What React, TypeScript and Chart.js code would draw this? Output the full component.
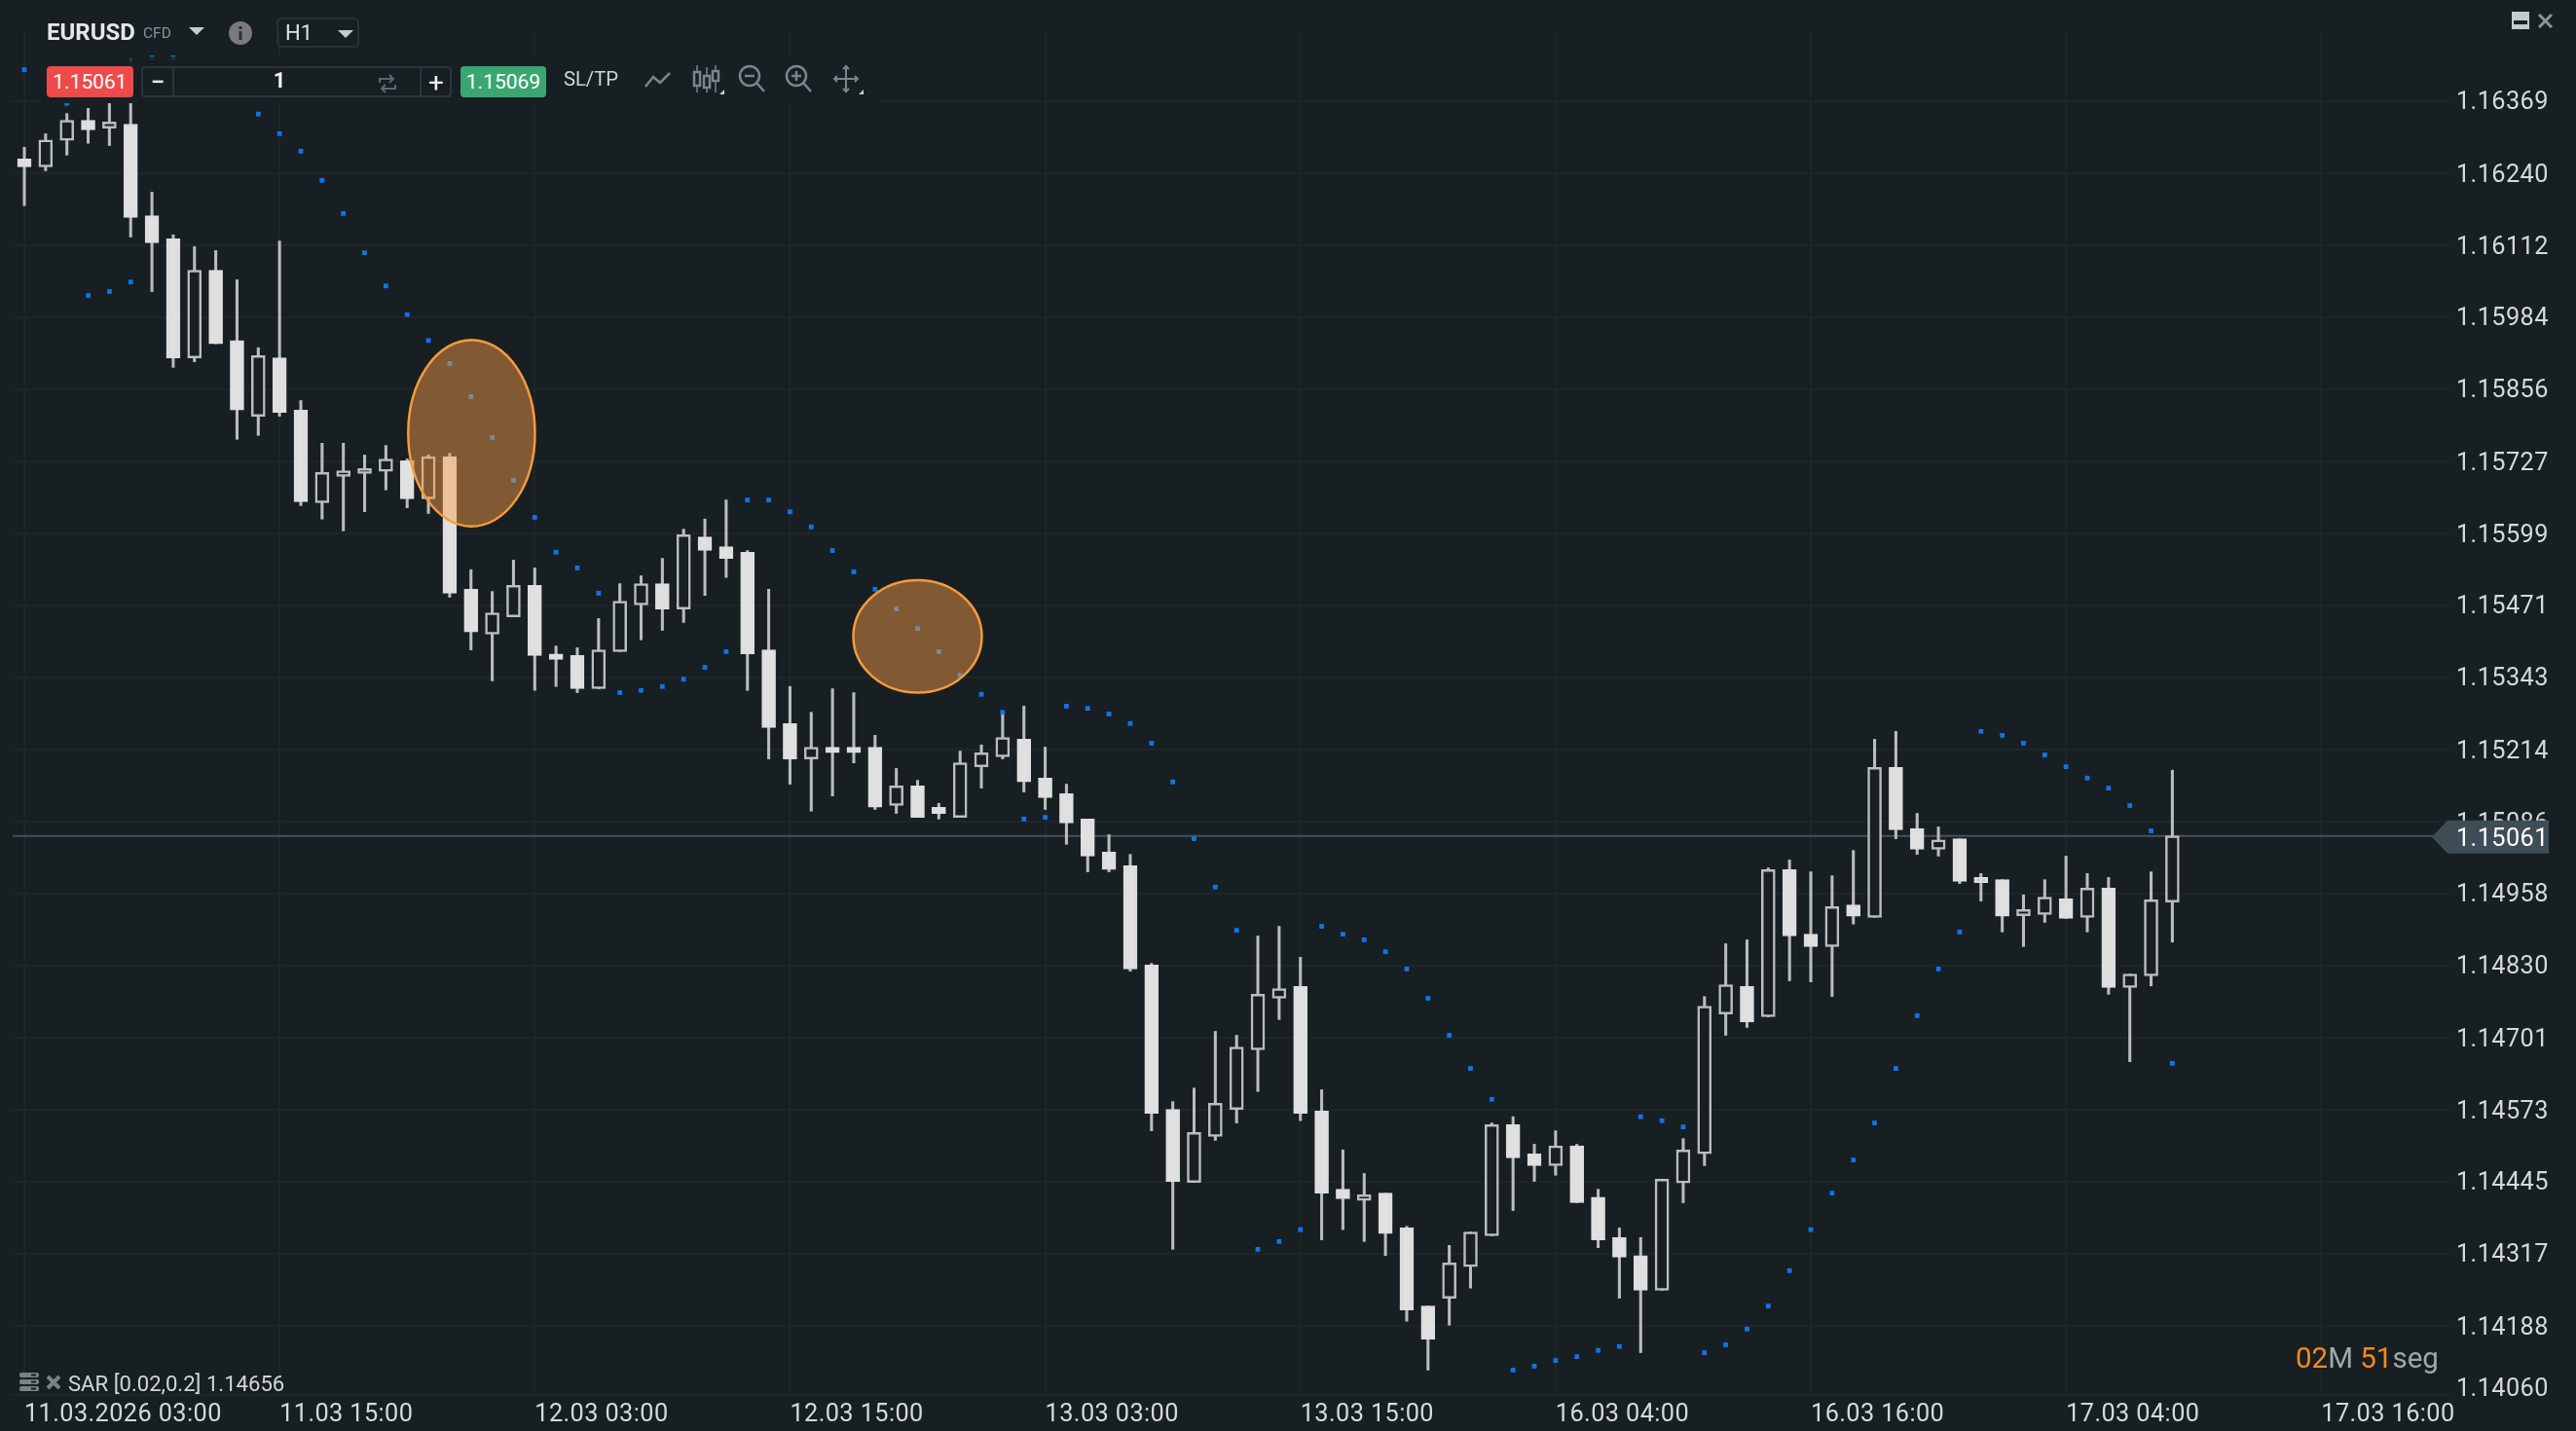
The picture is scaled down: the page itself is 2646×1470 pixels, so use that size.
import React, { useEffect, useRef } from "react";
import { Chart } from "chart.js/auto";

const opens = [
  1.16266, 1.16252, 1.16299, 1.16335, 1.16321, 1.16328, 1.16165, 1.16124, 1.15912, 1.16068,
  1.15943, 1.15808, 1.15912, 1.15819, 1.15654, 1.15701, 1.15706, 1.15710, 1.15729, 1.15661,
  1.15736, 1.15500, 1.15420, 1.15451, 1.15507, 1.15385, 1.15382, 1.15323, 1.15389, 1.15472,
  1.15510, 1.15465, 1.15593, 1.15576, 1.15566, 1.15392, 1.15261, 1.15198, 1.15219, 1.15219,
  1.15219, 1.15115, 1.15150, 1.15112, 1.15094, 1.15184, 1.15202, 1.15233, 1.15164, 1.15136,
  1.15091, 1.15032, 1.15008, 1.14831, 1.14574, 1.14444, 1.14526, 1.14574, 1.14680, 1.14772,
  1.14793, 1.14571, 1.14432, 1.14412, 1.14425, 1.14363, 1.14224, 1.14238, 1.14294, 1.14349,
  1.14547, 1.14495, 1.14474, 1.14509, 1.14418, 1.14346, 1.14314, 1.14252, 1.14443, 1.14495,
  1.14744, 1.14793, 1.14739, 1.15001, 1.14886, 1.14864, 1.14938, 1.14916, 1.15183, 1.15074,
  1.15037, 1.15056, 1.14987, 1.14983, 1.14919, 1.14921, 1.14949, 1.14916, 1.14968, 1.14791,
  1.14812, 1.14943,
];
const closes = [
  1.16252, 1.16300, 1.16335, 1.16318, 1.16332, 1.16162, 1.16117, 1.15912, 1.16068, 1.15937,
  1.15819, 1.15916, 1.15815, 1.15656, 1.15708, 1.15711, 1.15715, 1.15732, 1.15661, 1.15736,
  1.15493, 1.15424, 1.15458, 1.15507, 1.15382, 1.15375, 1.15323, 1.15392, 1.15479, 1.15510,
  1.15465, 1.15597, 1.15569, 1.15555, 1.15385, 1.15254, 1.15198, 1.15219, 1.15209, 1.15209,
  1.15112, 1.15150, 1.15094, 1.15101, 1.15191, 1.15209, 1.15236, 1.15157, 1.15129, 1.15084,
  1.15025, 1.15001, 1.14824, 1.14567, 1.14446, 1.14533, 1.14585, 1.14685, 1.14779, 1.14789,
  1.14567, 1.14425, 1.14415, 1.14422, 1.14353, 1.14217, 1.14165, 1.14301, 1.14356, 1.14547,
  1.14488, 1.14474, 1.14509, 1.14408, 1.14342, 1.14311, 1.14252, 1.14450, 1.14502, 1.14758,
  1.14796, 1.14730, 1.15001, 1.14883, 1.14864, 1.14935, 1.14918, 1.15183, 1.15072, 1.15037,
  1.15054, 1.14980, 1.14978, 1.14918, 1.14930, 1.14952, 1.14914, 1.14968, 1.14791, 1.14815,
  1.14947, 1.15061,
];
const highs = [
  1.16287, 1.16311, 1.16347, 1.16356, 1.16366, 1.16446, 1.16207, 1.16131, 1.16110, 1.16103,
  1.16051, 1.15930, 1.16120, 1.15836, 1.15760, 1.15760, 1.15739, 1.15756, 1.15732, 1.15739,
  1.15742, 1.15535, 1.15496, 1.15552, 1.15538, 1.15399, 1.15396, 1.15448, 1.15510, 1.15524,
  1.15555, 1.15607, 1.15625, 1.15659, 1.15569, 1.15500, 1.15327, 1.15281, 1.15323, 1.15316,
  1.15240, 1.15181, 1.15160, 1.15119, 1.15212, 1.15223, 1.15278, 1.15292, 1.15219, 1.15153,
  1.15091, 1.15063, 1.15028, 1.14834, 1.14588, 1.14612, 1.14713, 1.14706, 1.14883, 1.14900,
  1.14845, 1.14609, 1.14502, 1.14460, 1.14425, 1.14366, 1.14224, 1.14332, 1.14356, 1.14550,
  1.14561, 1.14512, 1.14536, 1.14512, 1.14432, 1.14363, 1.14346, 1.14450, 1.14522, 1.14775,
  1.14869, 1.14876, 1.15004, 1.15018, 1.14997, 1.14990, 1.15035, 1.15233, 1.15247, 1.15101,
  1.15077, 1.15056, 1.14994, 1.14983, 1.14956, 1.14983, 1.15025, 1.14994, 1.14987, 1.14815,
  1.14997, 1.15178,
];
const lows = [
  1.16183, 1.16245, 1.16273, 1.16294, 1.16290, 1.16127, 1.16030, 1.15895, 1.15905, 1.15937,
  1.15767, 1.15774, 1.15808, 1.15649, 1.15625, 1.15604, 1.15638, 1.15677, 1.15645, 1.15635,
  1.15486, 1.15392, 1.15337, 1.15451, 1.15320, 1.15327, 1.15316, 1.15323, 1.15389, 1.15410,
  1.15427, 1.15441, 1.15489, 1.15521, 1.15320, 1.15198, 1.15153, 1.15105, 1.15132, 1.15191,
  1.15108, 1.15101, 1.15094, 1.15091, 1.15094, 1.15146, 1.15198, 1.15139, 1.15108, 1.15046,
  1.14997, 1.14997, 1.14820, 1.14536, 1.14325, 1.14444, 1.14519, 1.14550, 1.14606, 1.14734,
  1.14554, 1.14342, 1.14360, 1.14339, 1.14314, 1.14197, 1.14110, 1.14190, 1.14256, 1.14349,
  1.14394, 1.14446, 1.14457, 1.14408, 1.14328, 1.14238, 1.14141, 1.14252, 1.14408, 1.14474,
  1.14706, 1.14720, 1.14739, 1.14803, 1.14801, 1.14775, 1.14904, 1.14916, 1.15056, 1.15028,
  1.15025, 1.14976, 1.14945, 1.14890, 1.14864, 1.14907, 1.14914, 1.14890, 1.14779, 1.14659,
  1.14794, 1.14872,
];
const sarValues = [
  1.16425, 1.16396, 1.16365, 1.16023, 1.16030, 1.16047, 1.16446, 1.16446, 1.16429, 1.16404,
  1.16377, 1.16346, 1.16311, 1.16280, 1.16228, 1.16169, 1.16099, 1.16040, 1.15989, 1.15943,
  1.15902, 1.15843, 1.15770, 1.15694, 1.15628, 1.15566, 1.15538, 1.15493, 1.15316, 1.15320,
  1.15327, 1.15340, 1.15361, 1.15389, 1.15659, 1.15659, 1.15638, 1.15611, 1.15569, 1.15531,
  1.15500, 1.15465, 1.15430, 1.15389, 1.15347, 1.15313, 1.15281, 1.15091, 1.15094, 1.15292,
  1.15288, 1.15278, 1.15261, 1.15226, 1.15157, 1.15056, 1.14970, 1.14893, 1.14325, 1.14339,
  1.14360, 1.14900, 1.14886, 1.14876, 1.14855, 1.14824, 1.14772, 1.14706, 1.14647, 1.14592,
  1.14110, 1.14117, 1.14127, 1.14134, 1.14145, 1.14152, 1.14561, 1.14554, 1.14543, 1.14141,
  1.14155, 1.14183, 1.14224, 1.14287, 1.14360, 1.14425, 1.14484, 1.14550, 1.14647, 1.14741,
  1.14824, 1.14890, 1.15247, 1.15240, 1.15226, 1.15205, 1.15184, 1.15164, 1.15146, 1.15115,
  1.15070, 1.14656,
];
const priceTicks = [
  1.16369, 1.1624, 1.16112, 1.15984, 1.15856, 1.15727, 1.15599, 1.15471, 1.15343, 1.15214,
  1.15086, 1.14958, 1.1483, 1.14701, 1.14573, 1.14445, 1.14317, 1.14188, 1.1406,
];
const timeLabels = [
  "11.03.2026 03:00", "11.03 15:00", "12.03 03:00", "12.03 15:00", "13.03 03:00",
  "13.03 15:00", "16.03 04:00", "16.03 16:00", "17.03 04:00", "17.03 16:00",
];
const lastPrice = 1.15061;
const bidLabel = "1.15061";
const askLabel = "1.15069";
const sarLegend = "SAR [0.02,0.2] 1.14656";
const highlightBars = [21.03, 42.0];
const highlightPrices = [1.15778, 1.15416];
const highlightHalfBars = [2.98, 3.02];
const highlightHalfPrices = [0.00166, 0.001];

const BG = "#171f23";
const GRID = "#1d2529";
const TEXT = "#d6d9db";
const FONT = "Roboto, sans-serif";
const LAST_TICK = priceTicks[priceTicks.length - 1];

const overlayPlugin = {
  id: "overlay",
  beforeDraw(chart: any) {
    chart.ctx.letterSpacing = "0.4px";
  },
  afterDatasetsDraw(chart: any) {
    const { ctx, scales } = chart;
    ctx.save();
    highlightBars.forEach((bar, i) => {
      const cx = scales.x.getPixelForValue(bar);
      const cy = scales.y.getPixelForValue(highlightPrices[i]);
      const rx = Math.abs(scales.x.getPixelForValue(bar + highlightHalfBars[i]) - cx);
      const ry = Math.abs(scales.y.getPixelForValue(highlightPrices[i] + highlightHalfPrices[i]) - cy);
      ctx.beginPath();
      ctx.ellipse(cx, cy, rx, ry, 0, 0, Math.PI * 2);
      ctx.fillStyle = "rgba(255,160,70,0.46)";
      ctx.fill();
      ctx.lineWidth = 2.5;
      ctx.strokeStyle = "#f59a3e";
      ctx.stroke();
    });
    ctx.restore();
  },
  afterDraw(chart: any) {
    const { ctx, scales, chartArea } = chart;
    const y = scales.y.getPixelForValue(lastPrice);
    const x = chartArea.right;
    ctx.save();
    ctx.font = `400 25.3px ${FONT}`;
    ctx.textBaseline = "middle";
    ctx.textAlign = "left";
    ctx.fillStyle = TEXT;
    ctx.fillText(LAST_TICK.toFixed(5), x + 5, Math.min(scales.y.getPixelForValue(LAST_TICK), chartArea.bottom - 8) + 3);
    ctx.beginPath();
    ctx.moveTo(x - 20, y + 1);
    ctx.lineTo(x - 4, y - 16);
    ctx.lineTo(x + 100, y - 16);
    ctx.lineTo(x + 100, y + 18);
    ctx.lineTo(x - 4, y + 18);
    ctx.closePath();
    ctx.fillStyle = "#3f4d57";
    ctx.fill();
    ctx.fillStyle = "#ffffff";
    ctx.fillText(lastPrice.toFixed(5), x + 5, y + 4);
    ctx.restore();
  },
};

const box = (left: number, top: number, width: number, height: number, extra: React.CSSProperties = {}): React.CSSProperties => ({
  position: "absolute",
  left,
  top,
  width,
  height,
  display: "flex",
  alignItems: "center",
  justifyContent: "center",
  whiteSpace: "nowrap",
  ...extra,
});

const Tri = ({ x, y, w, h, color }: { x: number; y: number; w: number; h: number; color: string }) => (
  <svg style={{ position: "absolute", left: x, top: y }} width={w} height={h}>
    <polygon points={`0,0 ${w},0 ${w / 2},${h}`} fill={color} />
  </svg>
);

const Toolbar = () => (
  <div style={{ position: "absolute", inset: 0, fontFamily: FONT, pointerEvents: "none" }}>
    <div style={{ position: "absolute", left: 42, top: 58, width: 860, height: 48, background: `linear-gradient(rgba(23,31,35,0.75), ${BG} 8px)` }} />
    <div style={box(48, 18, 92, 30, { justifyContent: "flex-start", color: "#e6e7e8", fontSize: 24, fontWeight: 700 })}>EURUSD</div>
    <div style={box(147, 22, 32, 24, { justifyContent: "flex-start", color: "#84929a", fontSize: 15.5 })}>CFD</div>
    <Tri x={194} y={28} w={16} h={8} color="#c8cacc" />
    <svg style={{ position: "absolute", left: 234, top: 21 }} width={26} height={26}>
      <circle cx={13} cy={13} r={12} fill="#7a7a7a" />
      <rect x={11.5} y={11} width={3} height={9} fill="#2b2f32" />
      <rect x={11.5} y={6} width={3} height={3} fill="#2b2f32" />
    </svg>
    <div style={{ position: "absolute", left: 284, top: 18, width: 85, height: 31, border: "2px solid #283036", borderRadius: 5, boxSizing: "border-box" }} />
    <div style={box(293, 18, 40, 30, { justifyContent: "flex-start", color: "#e0e2e3", fontSize: 22 })}>H1</div>
    <Tri x={347} y={31} w={16} h={8} color="#c8cacc" />

    <div style={box(48, 68, 89, 32, { background: "#ee4a4a", borderRadius: 4, color: "#fff", fontSize: 21 })}>{bidLabel}</div>
    <div style={{ position: "absolute", left: 145, top: 68, width: 319, height: 32, border: "2px solid #2c353b", borderRadius: 4, boxSizing: "border-box" }} />
    <div style={{ position: "absolute", left: 177, top: 68, width: 2, height: 32, background: "#2c353b" }} />
    <div style={{ position: "absolute", left: 431, top: 68, width: 2, height: 32, background: "#2c353b" }} />
    <div style={box(150, 68, 24, 32, { color: "#e8e8e8", fontSize: 26, fontWeight: 500 })}>−</div>
    <div style={box(270, 66, 34, 32, { color: "#f0f0f0", fontSize: 22, fontWeight: 700 })}>1</div>
    <svg style={{ position: "absolute", left: 388, top: 76 }} width={20} height={20} fill="none" stroke="#5d676d" strokeWidth={2}>
      <path d="M2 9V5h14M12 1l4 4-4 4" />
      <path d="M18 11v4H4M8 11l-4 4 4 4" />
    </svg>
    <div style={box(435, 68, 26, 32, { color: "#f0f0f0", fontSize: 28 })}>+</div>
    <div style={box(473, 68, 88, 32, { background: "#39a76f", borderRadius: 4, color: "#fff", fontSize: 21 })}>{askLabel}</div>
    <div style={box(578, 66, 58, 30, { color: "#cfd2d4", fontSize: 20.3 })}>SL/TP</div>

    <svg style={{ position: "absolute", left: 659, top: 66, overflow: "visible" }} width={240} height={36} fill="none" stroke="#7b858b" strokeWidth={2.5}>
      <path d="M4 23l8-10 7 6 10-10" />
      <g>
        <path d="M57 1v28M67 3v26M76 1v28" strokeWidth={1.5} />
        <rect x={54} y={8} width={6} height={14} fill="#171f23" />
        <rect x={64} y={12} width={6} height={12} fill="#171f23" />
        <rect x={73} y={7} width={6} height={10} fill="#171f23" />
      </g>
      <circle cx={111} cy={12} r={10} />
      <path d="M118 19l8 9M106 12h10" />
      <circle cx={159} cy={12} r={10} />
      <path d="M166 19l8 9M154 12h10M159 7v10" />
      <path d="M210 2v26M198 15h24" strokeWidth={2} />
      <path d="M207 5l3-3 3 3M207 25l3 3 3-3M201 12l-3 3 3 3M219 12l3 3-3 3" strokeWidth={2} />
      <polygon points="80,31 85,31 85,26" fill="#c8cacc" stroke="none" />
      <polygon points="223,31 228,31 228,26" fill="#c8cacc" stroke="none" />
    </svg>

    <div style={{ position: "absolute", left: 2580, top: 12, width: 18, height: 18, background: "#c5cacd" }}>
      <div style={{ position: "absolute", left: 2, top: 9, width: 14, height: 4, background: BG }} />
    </div>
    <svg style={{ position: "absolute", left: 2607, top: 14 }} width={15} height={15} stroke="#8d9396" strokeWidth={3}>
      <path d="M1 1l13 13M14 1L1 14" />
    </svg>

    <svg style={{ position: "absolute", left: 20, top: 1410 }} width={20} height={19} fill="#7c8184">
      <rect y={0} width={20} height={5} rx={2} />
      <rect y={7} width={20} height={5} rx={2} />
      <rect y={14} width={20} height={5} rx={2} />
      <rect x={12} y={1.5} width={5} height={2} fill="#171f23" />
      <rect x={12} y={8.5} width={5} height={2} fill="#171f23" />
      <rect x={12} y={15.5} width={5} height={2} fill="#171f23" />
    </svg>
    <svg style={{ position: "absolute", left: 47, top: 1412 }} width={16} height={16} stroke="#7c8184" strokeWidth={4}>
      <path d="M2 2l12 12M14 2L2 14" />
    </svg>
    <div style={box(70, 1406, 230, 30, { justifyContent: "flex-start", color: "#d3d6d8", fontSize: 22.1 })}>{sarLegend}</div>

    <div style={box(2358, 1378, 150, 34, { justifyContent: "flex-start", fontSize: 29.5 })}>
      <span style={{ color: "#f08a24" }}>02</span>
      <span style={{ color: "#a0a8ac" }}>M&nbsp;</span>
      <span style={{ color: "#f08a24" }}>51</span>
      <span style={{ color: "#a0a8ac" }}>seg</span>
    </div>
  </div>
);

export default function App() {
  const ref = useRef<HTMLCanvasElement>(null);

  useEffect(() => {
    if (!ref.current) return;
    const isDown = opens.map((o, i) => o > closes[i]);
    const chart = new Chart(ref.current, {
      type: "bar",
      data: {
        datasets: [
          {
            type: "scatter",
            label: "SAR",
            data: sarValues.map((v, i) => ({ x: i, y: v })),
            backgroundColor: "#0f74e8",
            pointStyle: "rect",
            pointRadius: 3.4,
            pointBorderWidth: 0,
            order: 1,
          },
          {
            type: "bar",
            label: "Body",
            data: opens.map((o, i) => ({ x: i, y: [o, closes[i]] })),
            backgroundColor: isDown.map((d) => (d ? "#e0e0e0" : BG)),
            borderColor: isDown.map((d) => (d ? "#dedede" : "#bdbdbd")),
            borderWidth: 2.5,
            borderSkipped: false,
            barThickness: 14,
            grouped: false,
            order: 2,
          },
          {
            type: "bar",
            label: "Wick",
            data: lows.map((l, i) => ({ x: i, y: [l, highs[i]] })),
            backgroundColor: "#bcbcbc",
            borderWidth: 0,
            barThickness: 2.4,
            grouped: false,
            order: 3,
          },
          {
            type: "line",
            label: "Last",
            data: [
              { x: -0.55, y: lastPrice },
              { x: 113.3, y: lastPrice },
            ],
            borderColor: "#44525c",
            borderWidth: 2,
            pointRadius: 0,
            order: 4,
          },
        ] as any,
      },
      options: {
        responsive: false,
        animation: false,
        maintainAspectRatio: false,
        events: [],
        layout: { autoPadding: false, padding: { left: 12, top: 32, right: 0, bottom: 0 } },
        plugins: { legend: { display: false }, tooltip: { enabled: false } },
        scales: {
          x: {
            type: "linear",
            offset: false,
            min: -0.595,
            max: 114.12,
            afterFit: (s: any) => { s.height = 37; },
            grid: { offset: false, color: GRID, lineWidth: 2, drawTicks: false },
            border: { display: true, color: GRID, width: 2 },
            ticks: {
              stepSize: 12,
              includeBounds: false,
              autoSkip: false,
              maxRotation: 0,
              minRotation: 0,
              align: "start",
              padding: 5,
              color: TEXT,
              font: { family: FONT, size: 25.3 },
              callback: (v: any) => timeLabels[Number(v) / 12] ?? "",
            },
          },
          y: {
            type: "linear",
            position: "right",
            min: 1.140657,
            max: 1.164936,
            afterFit: (s: any) => { s.width = 128; },
            afterBuildTicks: (s: any) => { s.ticks = priceTicks.map((value) => ({ value })); },
            grid: {
              color: (c: any) => (c.tick && c.tick.value === LAST_TICK ? "rgba(0,0,0,0)" : GRID),
              lineWidth: 2,
              drawTicks: false,
            },
            border: { display: false },
            ticks: {
              autoSkip: false,
              padding: 5,
              labelOffset: 2,
              color: TEXT,
              font: { family: FONT, size: 25.3 },
              callback: (v: any) => (v === LAST_TICK ? "" : Number(v).toFixed(5)),
            },
          },
        },
      } as any,
      plugins: [overlayPlugin],
    });
    return () => chart.destroy();
  }, []);

  return (
    <div style={{ position: "fixed", left: 0, top: 0, width: 2646, height: 1470, background: BG, overflow: "hidden" }}>
      <canvas ref={ref} width={2646} height={1470} style={{ display: "block" }} />
      <Toolbar />
    </div>
  );
}
